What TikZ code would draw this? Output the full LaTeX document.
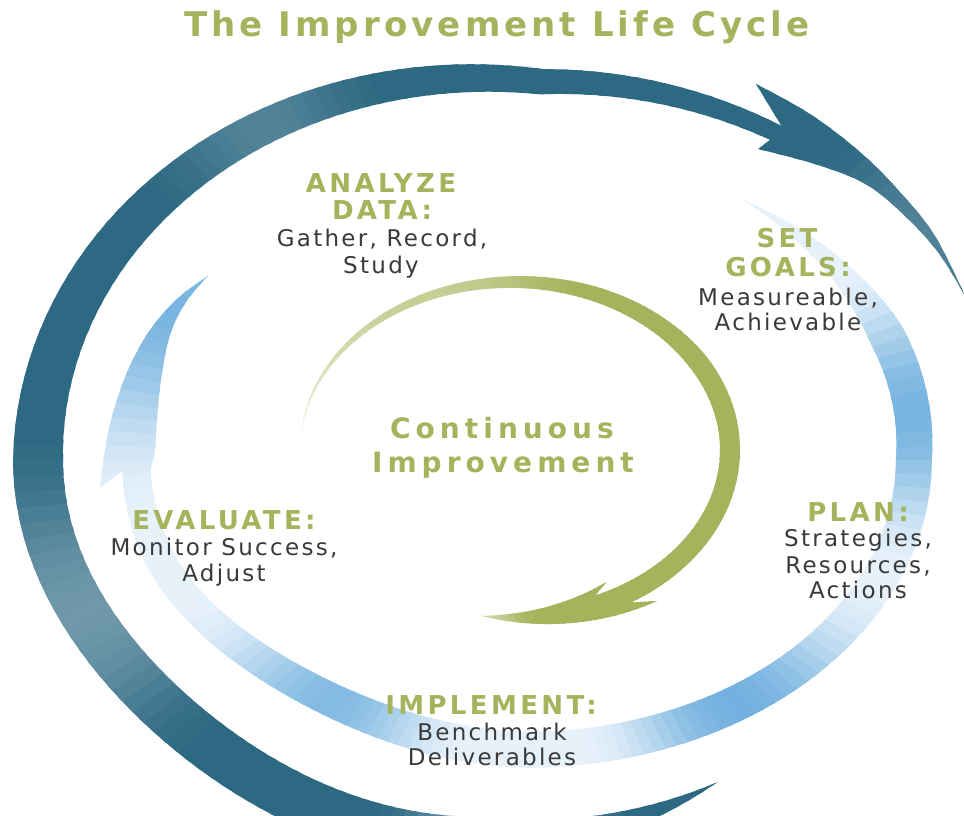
\documentclass[tikz,border=0pt]{standalone}
\usepackage{fontspec}
\setmainfont{DejaVu Sans}
\newfontfamily\titfont{DejaVu Sans}[LetterSpace=12]
\newfontfamily\labfont{DejaVu Sans}[LetterSpace=13]
\newfontfamily\cifont{DejaVu Sans}[LetterSpace=18]
\newfontfamily\bodyfont{DejaVu Sans}[LetterSpace=10]
\definecolor{tealdk}{HTML}{2E6983}
\definecolor{teallt}{HTML}{A5BFCB}
\definecolor{bluept}{HTML}{E6F1FA}
\definecolor{bluemd}{HTML}{72B1DE}
\definecolor{grn}{HTML}{A4B45C}
\definecolor{grnpt}{HTML}{EBEFD9}
\definecolor{txt}{HTML}{3A3A3A}
\begin{document}
\begin{tikzpicture}[x=1pt, y=-1pt,
  declare function={
    hump(\xx,\ww)=(1+cos(180*min(1,abs(\xx)/\ww)))/2;
    ts(\ang)=1-0.0175*(1+cos(4*max(-45,min(45,\ang-135))))+0.0029*max(0,\ang-278);
    tw(\ang)=min(1.5*(\ang-57.5),50-0.25*max(0,\ang-180));
    tX(\ang,\dd)=480+(442*ts(\ang)+\dd)*cos(\ang);
    tY(\ang,\dd)=460+(382*ts(\ang)+\dd)*sin(\ang);
    bs(\ang)=1.01-0.0175*(1+cos(4.5*max(-40,min(40,\ang-125))))+0.001*max(0,-\ang);
    bw(\ang)=min(1.1*(\ang+58),36-0.1*max(0,\ang-100));
    bX(\ang,\dd)=525+(385*bs(\ang)+\dd)*cos(\ang);
    bY(\ang,\dd)=460+(287*bs(\ang)+\dd)*sin(\ang);
    gw(\ang)=min(0.14*(\ang-186),20);
    gX(\ang,\dd)=515+(215+\dd)*cos(\ang);
    gY(\ang,\dd)=450+(168+\dd)*sin(\ang);
  },
  titl/.style={font=\titfont\bfseries\fontsize{34}{34}\selectfont, text=grn, anchor=base, inner sep=0pt},
  lab/.style={font=\labfont\bfseries\fontsize{26}{26}\selectfont, text=grn, anchor=base, inner sep=0pt},
  ci/.style={font=\cifont\bfseries\fontsize{28}{28}\selectfont, text=grn, anchor=base, inner sep=0pt},
  body/.style={font=\bodyfont\fontsize{23}{23}\selectfont, text=txt, anchor=base, inner sep=0pt}
]
\useasboundingbox (0,0) rectangle (964,816);
\fill[white] (0,0) rectangle (964,816);
\clip (0,0) rectangle (964,816);

% ---------- outer teal arrow ----------
\begin{scope}
\clip plot[domain=57.5:308, samples=110, variable=\ang] ({tX(\ang,tw(\ang)/2)},{tY(\ang,tw(\ang)/2)})
  -- (756,84)
  -- plot[smooth, tension=0.6] coordinates {(756,84) (810,114) (860,152) (900,192) (935,236) (966,298)}
  -- plot[smooth, tension=0.6] coordinates {(966,298) (940,255) (907,218) (867,185) (818,165) (758,149)}
  -- plot[domain=308:57.5, samples=110, variable=\ang] ({tX(\ang,-tw(\ang)/2)},{tY(\ang,-tw(\ang)/2)})
  -- cycle;
\foreach \a in {48,50,...,346} {
  \pgfmathtruncatemacro\pp{100*min(1,0.55*hump(\a-158,26)+0.62*hump(\a-86,22)+0.3*hump(\a-236,20)+0.3*hump(\a-332,16))}
  \fill[teallt!\pp!tealdk] (480,460) -- +(\a:1300) -- +(\a+2.8:1300) -- cycle;
}
\end{scope}

% ---------- blue arrow ----------
\begin{scope}
\clip plot[domain=-58:178, samples=120, variable=\ang] ({bX(\ang,bw(\ang)/2)},{bY(\ang,bw(\ang)/2)})
  -- (100,488)
  -- plot[smooth, tension=0.6] coordinates {(100,488) (105,450) (113,413) (128,370) (150,330) (178,298) (208,276)}
  -- plot[smooth, tension=0.6] coordinates {(208,276) (186,302) (170,335) (161,380) (157,420) (155,452)}
  -- plot[domain=178:-58, samples=120, variable=\ang] ({bX(\ang,-bw(\ang)/2)},{bY(\ang,-bw(\ang)/2)})
  -- cycle;
\foreach \a in {-58,-56,...,218} {
  \pgfmathtruncatemacro\pp{100*min(1,0.95*hump(\a+8,24)+hump(\a-48,30)+0.85*hump(\a-128,28)+0.95*hump(\a-203,32))}
  \fill[bluemd!\pp!bluept] (525,460) -- +(\a:1300) -- +(\a+2.8:1300) -- cycle;
}
\end{scope}

% ---------- green arrow ----------
\begin{scope}
\clip plot[domain=186:419, samples=100, variable=\ang] ({gX(\ang,gw(\ang)/2)},{gY(\ang,gw(\ang)/2)})
  -- ({gX(413,21)},{gY(413,21)})
  -- plot[domain=413:459, samples=30, variable=\ang] ({gX(\ang,21*(459-\ang)/46)},{gY(\ang,21*(459-\ang)/46)})
  -- plot[domain=459:422, samples=30, variable=\ang] ({gX(\ang,-19*(459-\ang)/37)},{gY(\ang,-19*(459-\ang)/37)})
  -- ({gX(427,-10)},{gY(427,-10)})
  -- plot[domain=427:186, samples=100, variable=\ang] ({gX(\ang,-gw(\ang)/2)},{gY(\ang,-gw(\ang)/2)})
  -- cycle;
\foreach \a in {176,178,...,466} {
  \pgfmathtruncatemacro\pp{100*min(1,hump(\a-180,65)+0.45*hump(\a-245,50)+0.85*hump(\a-468,28))}
  \fill[grnpt!\pp!grn] (515,450) -- +(\a:1000) -- +(\a+2.8:1000) -- cycle;
}
\end{scope}

% ---------- texts ----------
\node[titl] (title) at (497,37) {The Improvement Life Cycle};
\node[lab] (an1) at (381,192) {ANALYZE};
\node[lab] (an2) at (382,219) {DATA:};
\node[body] (an3) at (382,246) {Gather, Record,};
\node[body] (an4) at (381,273) {Study};
\node[lab] (sg1) at (787,247) {SET};
\node[lab] (sg2) at (788,276) {GOALS:};
\node[body] (sg3) at (788,305) {Measureable,};
\node[body] (sg4) at (788,330) {Achievable};
\node[lab] (pl1) at (858,521) {PLAN:};
\node[body] (pl2) at (858,546) {Strategies,};
\node[body] (pl3) at (858,573) {Resources,};
\node[body] (pl4) at (858,598) {Actions};
\node[lab] (ev1) at (224,529) {EVALUATE:};
\node[body] (ev2) at (224,555) {Monitor Success,};
\node[body] (ev3) at (224,581) {Adjust};
\node[lab] (im1) at (491,714) {IMPLEMENT:};
\node[body] (im2) at (492,740) {Benchmark};
\node[body] (im3) at (492,765) {Deliverables};
\node[ci] (ci1) at (502,438) {Continuous};
\node[ci] (ci2) at (503,472) {Improvement};
\end{tikzpicture}
\end{document}
